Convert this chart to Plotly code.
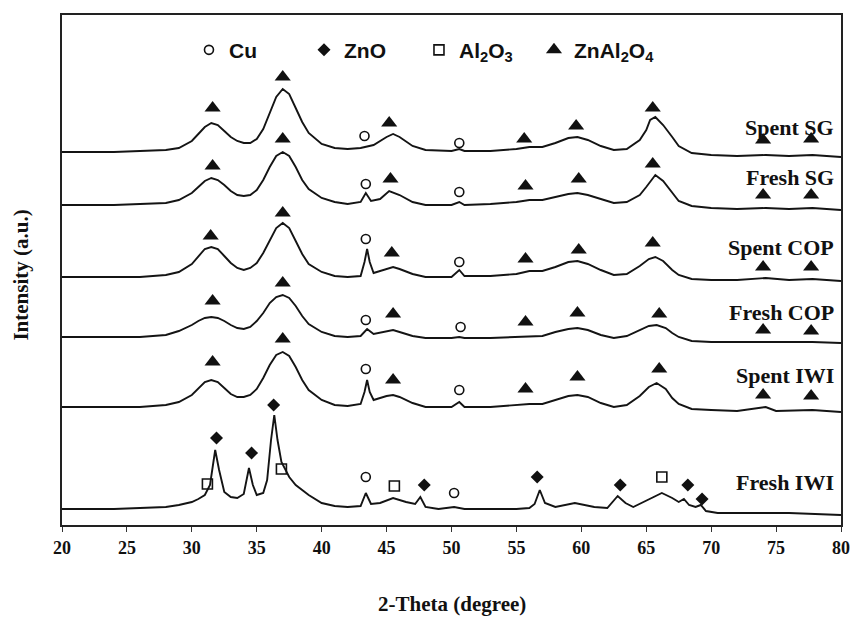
import plotly.graph_objects as go

# ---------------- data (2-theta in degree, intensity in a.u., patterns already offset) -------------
spent_sg_x = [20,24,26,28,29,30,30.5,31,31.5,32,32.5,33,33.5,34,34.5,35,35.5,36,36.5,37,37.5,38,38.5,39,40,41,42,43,44,45,45.5,46,47,48,50,50.6,51,53,55,56,57,58,59,59.7,60.5,61.5,62.5,63.5,64.5,65,65.3,65.7,66.3,67,67.5,68.5,70,72,74.2,76,77.8,80]
spent_sg_y = [373,373,374,375,377,384,391,398,402,400,394,388,384,382,382,386,396,412,428,436,431,417,403,392,381,377,376,377,380,388,391,388,379,375,374,376,374,374,376,378,378,382,387,388,385,379,375,376,385,395,405,408,400,388,379,372,370,369,370,369,370,368]

fresh_sg_x = [20,24,26,28,29,30,30.5,31,31.5,32,32.5,33,33.5,34,34.5,35,35.5,36,36.5,37,37.5,38,38.5,39,40,41,42,43,43.4,43.8,44.5,45.2,46,47,48,50,50.6,51,53,55,56,57,58,59,59.7,60.5,61.5,62.5,63.5,64.5,65,65.7,66.3,67,67.5,68.5,70,72,74.2,76,77.8,80]
fresh_sg_y = [320,320,321,322,325,332,338,344,347,345,340,334,330,329,330,335,345,358,369,373,369,358,345,336,327,323,321,323,332,324,326,334,330,323,320,320,323,320,321,323,325,325,328,331,332,330,326,322,323,330,338,350,344,332,324,319,317,316,317,316,317,315]

spent_cop_x = [20,24,26,28,29,30,30.5,31,31.5,32,32.5,33,33.5,34,34.5,35,35.5,36,36.5,37,37.5,38,38.5,39,40,41,42,43,43.3,43.5,43.7,44,45,45.5,46,47,48,50,50.6,51,53,55,56,57,58,59,59.7,60.5,61.5,62.5,63.5,64.5,65.2,65.7,66.3,67,67.5,68.5,70,72,74.2,76,77.8,80]
spent_cop_y = [248,248,248,250,253,261,269,276,278,276,269,262,257,255,257,262,272,285,297,302,297,284,271,261,253,249,248,249,263,276,263,252,256,258,256,251,248,248,255,249,249,251,254,254,258,263,264,261,255,250,251,259,266,268,264,255,250,246,245,245,247,245,246,244]

fresh_cop_x = [20,24,26,28,29,30,30.5,31,31.5,32,32.5,33,33.5,34,34.5,35,35.5,36,36.5,37,37.5,38,38.5,39,40,41,42,43,43.5,44,45,45.5,46,47,48,50,50.6,51,53,55,56,57,58,59,59.7,60.5,61.5,62.5,63.5,64.5,65.2,65.8,66.5,67,67.5,68.5,70,72,74.2,76,77.8,80]
fresh_cop_y = [188,188,188,190,194,200,204,207,208,207,204,200,197,196,198,204,212,222,228,230,227,219,209,201,193,189,188,189,196,191,194,195,193,189,187,187,188,187,187,188,188,189,193,196,197,195,190,187,189,195,199,200,197,192,188,184,183,183,183,183,183,182]

spent_iwi_x = [20,24,26,28,29,30,30.5,31,31.5,32,32.5,33,33.5,34,34.5,35,35.5,36,36.5,37,37.5,38,38.5,39,40,41,42,43,43.3,43.5,43.7,44,45,45.5,46,47,48,50,50.6,51,53,55,56,57,58,59,59.7,60.5,61.5,62.5,63.5,64.5,65.2,65.8,66.5,67,67.5,68.5,70,72,74.2,75,77.8,80]
spent_iwi_y = [118,118,118,120,123,130,137,143,145,143,137,131,128,128,130,136,147,160,170,173,169,158,145,135,125,120,119,121,133,145,133,125,129,130,128,122,118,118,123,118,118,120,121,121,125,129,130,128,122,118,120,129,138,142,136,127,121,116,115,114,118,114,115,113]

fresh_iwi_x = [20,24,26,28,29,30,30.5,31,31.4,31.8,32.1,32.5,33,33.5,34,34.4,34.7,35,35.5,35.8,36.1,36.35,36.6,36.9,37.5,38,39,40,41,42,43,43.4,43.8,44.5,45.5,46.5,47.2,47.6,48,49,50.2,51,53,55,56,56.4,56.8,57.2,58,59.5,61,62,62.8,63.4,64,65,66.2,67,67.5,67.9,68.3,68.8,69.2,69.6,70.5,72,74,76,78,80]
fresh_iwi_y = [16,16,17,18,20,23,26,30,40,75,55,33,28,27,31,57,40,30,32,45,85,110,85,63,48,40,30,22,19,18,19,32,21,22,27,23,21,28,18,16,18,16,16,16,17,21,35,22,18,22,18,17,29,22,18,24,32,27,23,26,20,18,20,14,12,12,12,12,11,10]

pattern_names = ["Spent SG", "Fresh SG", "Spent COP", "Fresh COP", "Spent IWI", "Fresh IWI"]

# phase markers (peak assignments)
cu_x = [43.3, 50.6, 43.4, 50.6, 43.4, 50.6, 43.4, 50.7, 43.4, 50.6, 43.4, 50.2]
cu_y = [389, 382, 341, 333, 286, 263, 205, 198, 156, 135, 48, 32]

zno_x = [31.9, 34.6, 36.3, 47.9, 56.6, 63.0, 68.2, 69.3]
zno_y = [87, 72, 120, 40, 48, 40, 40, 26]

al2o3_x = [31.2, 36.9, 45.6, 66.2]
al2o3_y = [41, 56, 39, 48]

znal_x = [31.6, 37, 45.2, 55.6, 59.6, 65.5, 74.0, 77.7,
          31.6, 37, 45.3, 55.7, 59.8, 65.5, 74.0, 77.7,
          31.45, 37, 45.4, 55.7, 59.8, 65.5, 74.0, 77.7,
          31.6, 37, 45.5, 55.7, 59.7, 66.0, 74.0, 77.7,
          31.6, 37, 45.5, 55.7, 59.7, 66.0, 74.0, 77.7]
znal_y = [417, 448, 402, 386, 399, 417, 385, 386,
          359, 386, 346, 339, 346, 361, 330, 330,
          289, 312, 272, 266, 275, 282, 258, 258,
          224, 242, 211, 203, 212, 211, 195, 194,
          163, 186, 145, 136, 148, 156, 130, 129]

x_ticks = [20, 25, 30, 35, 40, 45, 50, 55, 60, 65, 70, 75, 80]

# ---------------- figure ----------------
patterns = [(spent_sg_x, spent_sg_y), (fresh_sg_x, fresh_sg_y), (spent_cop_x, spent_cop_y),
            (fresh_cop_x, fresh_cop_y), (spent_iwi_x, spent_iwi_y), (fresh_iwi_x, fresh_iwi_y)]
label_y = [398, 348, 278, 213, 150, 43]

fig = go.Figure()
for (px, py), name in zip(patterns, pattern_names):
    fig.add_trace(go.Scatter(x=px, y=py, mode="lines", name=name, showlegend=False,
                             line=dict(color="#141414", width=1.9), hoverinfo="skip"))

fig.add_trace(go.Scatter(x=cu_x, y=cu_y, mode="markers", name="Cu",
                         marker=dict(symbol="circle-open", size=9, color="#111",
                                     line=dict(width=1.6, color="#111"))))
fig.add_trace(go.Scatter(x=zno_x, y=zno_y, mode="markers", name="ZnO",
                         marker=dict(symbol="diamond", size=10, color="#111")))
fig.add_trace(go.Scatter(x=al2o3_x, y=al2o3_y, mode="markers", name="Al<sub>2</sub>O<sub>3</sub>",
                         marker=dict(symbol="square-open", size=10, color="#111",
                                     line=dict(width=1.6, color="#111"))))
fig.add_trace(go.Scatter(x=znal_x, y=znal_y, mode="markers", name="ZnAl<sub>2</sub>O<sub>4</sub>",
                         marker=dict(symbol="triangle-up", size=14, color="#111")))
# invisible spacer entry so the last legend label is not clipped
fig.add_trace(go.Scatter(x=[None], y=[None], mode="markers", name=" ",
                         marker=dict(color="rgba(0,0,0,0)"), hoverinfo="skip"))

for name, ly in zip(pattern_names, label_y):
    fig.add_annotation(x=80, y=ly, xref="x", yref="y", text=name, showarrow=False,
                       xanchor="right", yanchor="middle", xshift=-5,
                       font=dict(family="Liberation Serif", size=22, color="#111", weight="bold"))

fig.add_annotation(x=0.5, y=-0.155, xref="paper", yref="paper", text="2-Theta (degree)",
                   showarrow=False, xanchor="center", yanchor="middle",
                   font=dict(family="Liberation Serif", size=21, color="#111", weight="bold"))
fig.add_annotation(x=-0.052, y=0.49, xref="paper", yref="paper", text="Intensity (a.u.)",
                   showarrow=False, textangle=-90, xanchor="center", yanchor="middle",
                   font=dict(family="Liberation Serif", size=21, color="#111", weight="bold"))

fig.update_layout(
    width=862, height=620,
    margin=dict(l=62, r=14, t=15, b=95),
    paper_bgcolor="white", plot_bgcolor="white",
    showlegend=True,
    legend=dict(orientation="h", x=0.163, y=0.931, xanchor="left", yanchor="middle",
                bgcolor="rgba(0,0,0,0)", itemsizing="trace",
                entrywidth=70, entrywidthmode="pixels",
                font=dict(family="Liberation Sans", size=21, color="#111", weight="bold")),
    xaxis=dict(range=[20, 80], tickvals=x_ticks, ticks="outside", ticklen=5, tickwidth=1,
               tickcolor="#333", showline=True, linecolor="#222", linewidth=2, mirror=True,
               showgrid=False, zeroline=False,
               tickfont=dict(family="Liberation Serif", size=18, color="#111", weight="bold")),
    yaxis=dict(range=[0, 510], showticklabels=False, ticks="", showline=True, linecolor="#222",
               linewidth=2, mirror=True, showgrid=False, zeroline=False),
)

fig.write_html("out.html")
